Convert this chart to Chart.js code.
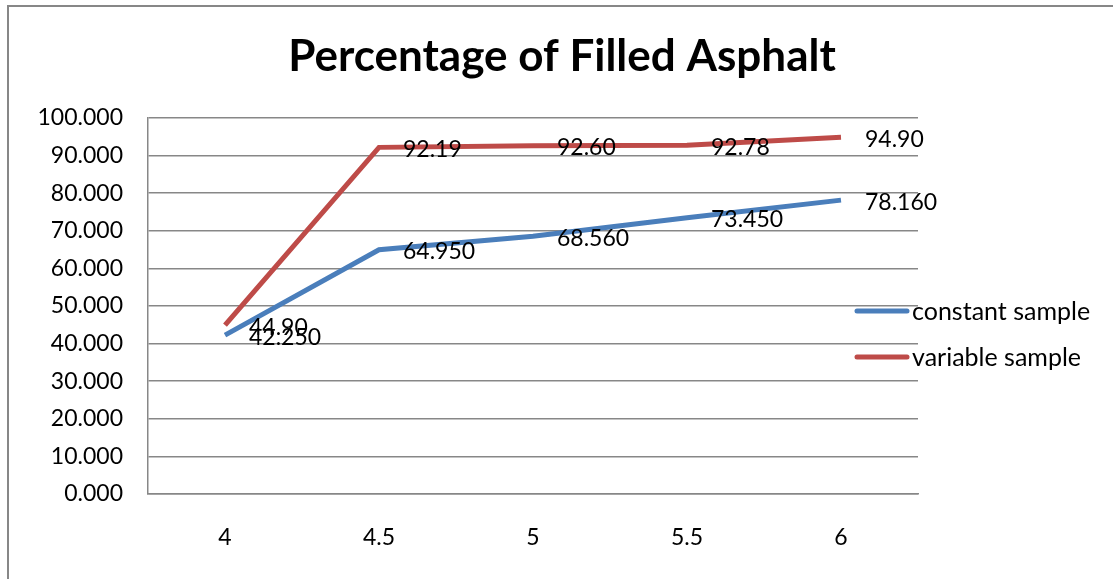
<!DOCTYPE html>
<html>
<head>
<meta charset="utf-8">
<script src="https://cdn.jsdelivr.net/npm/chart.js@4.4.0/dist/chart.umd.min.js"></script>
<style>
  html, body { margin: 0; padding: 0; background: #fff; }
  #wrap { width: 1113px; height: 579px; position: relative; }
</style>
</head>
<body>
<div id="wrap"><canvas id="chartjs-0" width="1113" height="579"></canvas></div>
<script>
var categories = ["4", "4.5", "5", "5.5", "6"];
var constantSample = [42.25, 64.95, 68.56, 73.45, 78.16];
var variableSample = [44.90, 92.19, 92.60, 92.78, 94.90];
var constantDecimals = 3;
var variableDecimals = 2;
var chartTitle = "Percentage of Filled Asphalt";

var fontFamily = "Lato, 'Liberation Sans', sans-serif";
var gridColor = "#878787";

// draws the value next to each point
var valueLabels = {
  id: "valueLabels",
  afterDatasetsDraw: function (chart) {
    var ctx = chart.ctx;
    ctx.save();
    ctx.font = "23px " + fontFamily;
    ctx.fillStyle = "#000";
    ctx.textBaseline = "middle";
    ctx.textAlign = "left";
    chart.data.datasets.forEach(function (ds, i) {
      var meta = chart.getDatasetMeta(i);
      meta.data.forEach(function (pt, j) {
        ctx.fillText(ds.data[j].toFixed(ds.decimals), pt.x + 24, pt.y + 2);
      });
    });
    ctx.restore();
  }
};

// title, legend on the right, outer frame
var sideLegend = {
  id: "sideLegend",
  afterDraw: function (chart) {
    var ctx = chart.ctx;
    ctx.save();
    ctx.strokeStyle = gridColor;
    ctx.lineWidth = 2;
    ctx.beginPath();
    ctx.moveTo(8, 579);
    ctx.lineTo(8, 6);
    ctx.lineTo(1113, 6);
    ctx.stroke();

    ctx.font = "bold 44px " + fontFamily;
    ctx.fillStyle = "#000";
    ctx.textAlign = "center";
    ctx.textBaseline = "middle";
    ctx.fillText(chartTitle, 562, 57);

    var ys = [311, 357];
    ctx.textAlign = "left";
    chart.data.datasets.forEach(function (ds, i) {
      ctx.strokeStyle = ds.borderColor;
      ctx.lineWidth = 5;
      ctx.lineCap = "round";
      ctx.beginPath();
      ctx.moveTo(857, ys[i]);
      ctx.lineTo(907, ys[i]);
      ctx.stroke();
      ctx.font = "25px " + fontFamily;
      ctx.fillStyle = "#000";
      ctx.fillText(ds.label, 912, ys[i] + 1);
    });
    ctx.restore();
  }
};

var ctx0 = document.getElementById("chartjs-0");
var myChart = new Chart(ctx0, {
  type: "line",
  data: {
    labels: categories,
    datasets: [
      {
        label: "constant sample",
        data: constantSample,
        decimals: constantDecimals,
        borderColor: "#4a7ebb",
        borderWidth: 5,
        pointRadius: 0,
        fill: false,
        tension: 0
      },
      {
        label: "variable sample",
        data: variableSample,
        decimals: variableDecimals,
        borderColor: "#be4b48",
        borderWidth: 5,
        pointRadius: 0,
        fill: false,
        tension: 0
      }
    ]
  },
  options: {
    responsive: false,
    animation: false,
    layout: { padding: { left: 0, right: 195, top: 118, bottom: 0 } },
    plugins: {
      legend: { display: false },
      tooltip: { enabled: false },
      title: { display: false }
    },
    scales: {
      x: {
        offset: true,
        grid: { display: false },
        border: { display: true, color: gridColor, width: 1.5 },
        ticks: { color: "#000", font: { family: fontFamily, size: 23 }, padding: 22 },
        afterFit: function (s) { s.height = 85; }
      },
      y: {
        min: 0,
        max: 100,
        grid: { color: gridColor, lineWidth: 1.5, drawTicks: false },
        border: { display: true, color: gridColor, width: 1.5 },
        ticks: {
          stepSize: 10,
          color: "#000",
          padding: 25,
          font: { family: fontFamily, size: 23 },
          callback: function (v) { return v.toFixed(3); }
        },
        afterFit: function (s) { s.width = 148; }
      }
    }
  },
  plugins: [valueLabels, sideLegend]
});
</script>
</body>
</html>
